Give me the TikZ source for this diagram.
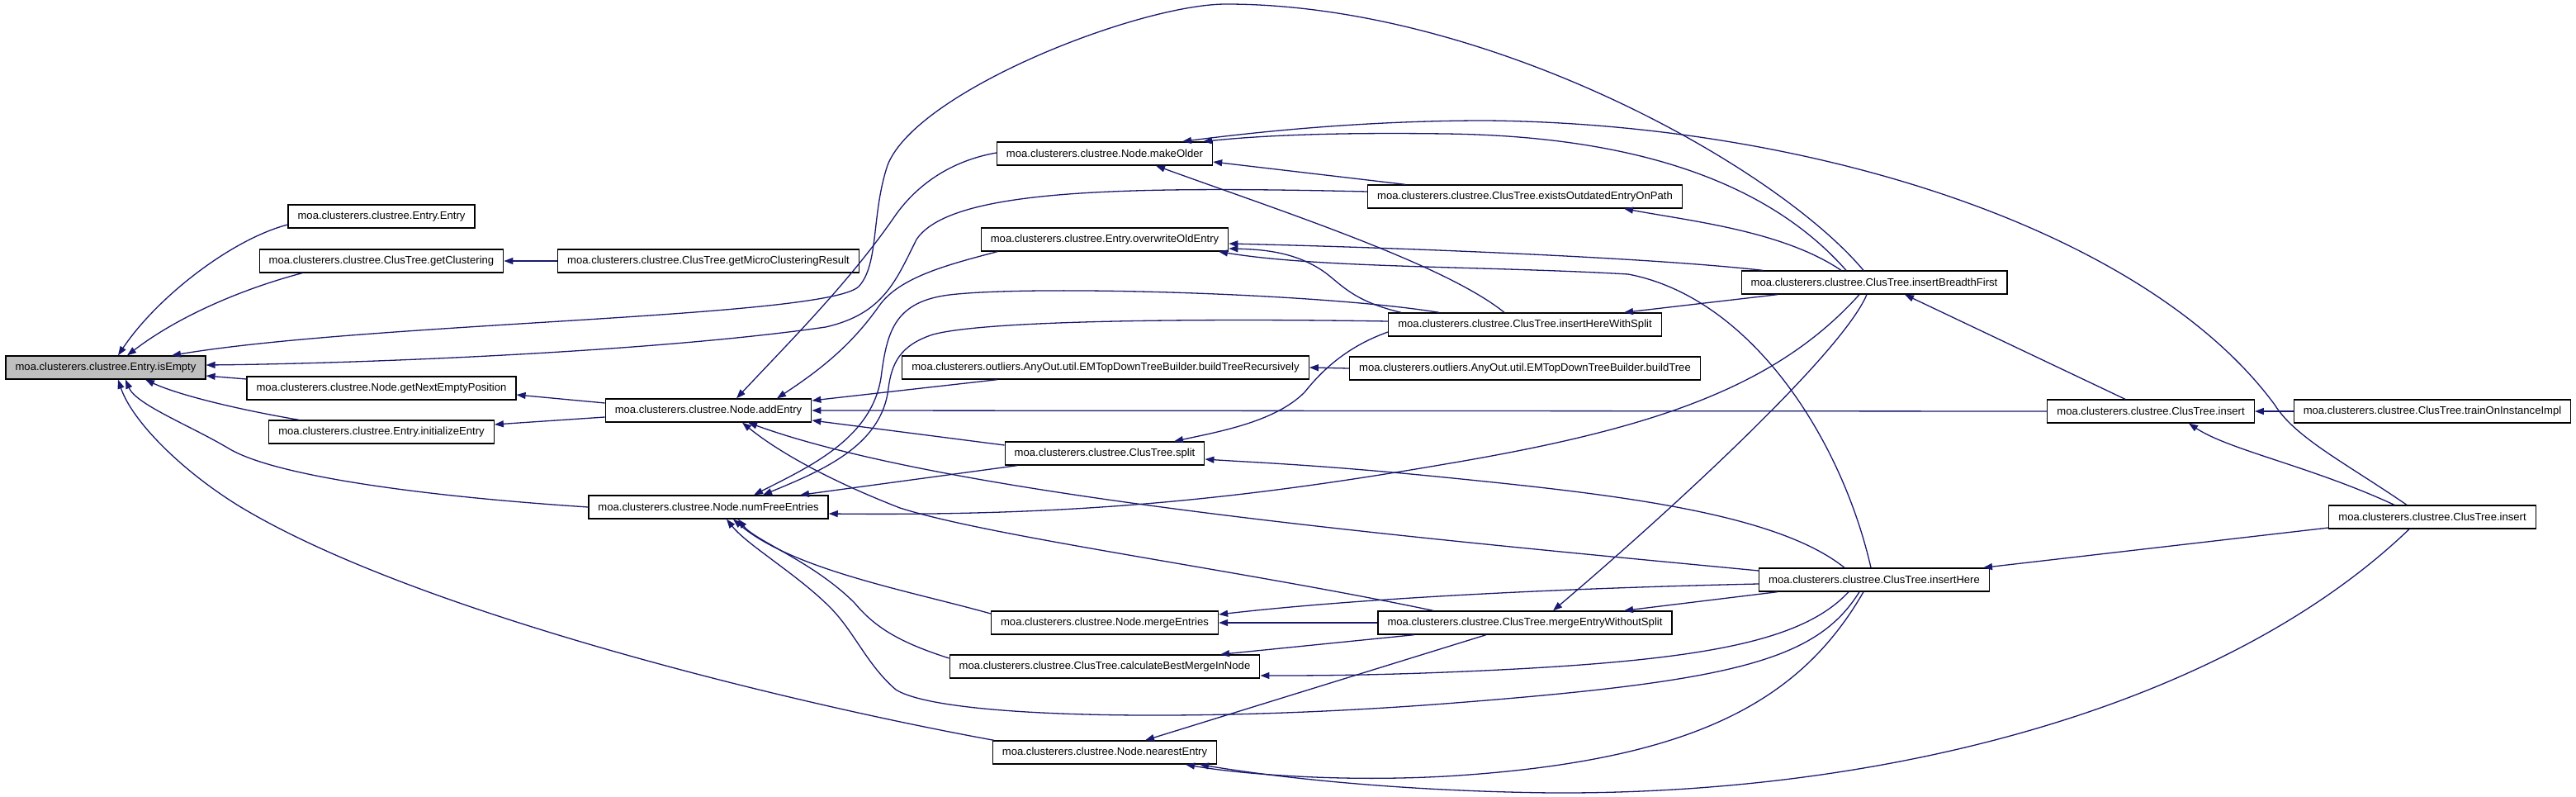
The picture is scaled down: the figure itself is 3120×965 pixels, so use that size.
\documentclass[tikz,border=0pt]{standalone}
\usepackage{fontspec}
\setmainfont{Liberation Sans}
\usepackage{xcolor}
\usetikzlibrary{arrows.meta}
\definecolor{edgeblue}{RGB}{25,25,112}

\begin{document}
\begin{tikzpicture}[x=1pt,y=-1pt,
  fn/.style={draw=black,line width=1.3pt,fill=white,minimum height=28pt,inner xsep=11.5pt,inner ysep=0pt,font=\fontsize{13.1}{15}\selectfont},
  cur/.style={fn,fill=black!25},
  call/.style={draw=edgeblue,line width=1.3pt,-{Triangle[length=11pt,width=8pt]}}]
\useasboundingbox (0,0) rectangle (3120,965);
% functions, placed by rank
\node[cur] (isEmpty) at (128,445) {moa.clusterers.clustree.Entry.isEmpty};
\foreach \nm/\x/\y/\txt in {
  EntryEntry/462/262/clustree.Entry.Entry,
  getClustering/462/316/clustree.ClusTree.getClustering,
  getNext/462/470/clustree.Node.getNextEmptyPosition,
  initEntry/462/523/clustree.Entry.initializeEntry,
  getMicro/858/316/clustree.ClusTree.getMicroClusteringResult,
  addEntry/858/497/clustree.Node.addEntry,
  numFree/858/614/clustree.Node.numFreeEntries,
  makeOlder/1338/186/clustree.Node.makeOlder,
  overwrite/1338/290/clustree.Entry.overwriteOldEntry,
  buildTreeRec/1339/445/outliers.AnyOut.util.EMTopDownTreeBuilder.buildTreeRecursively,
  split/1338/549/clustree.ClusTree.split,
  mergeEntries/1338/754/clustree.Node.mergeEntries,
  calcBest/1338/807/clustree.ClusTree.calculateBestMergeInNode,
  nearest/1338/911/clustree.Node.nearestEntry,
  existsOut/1847/238/clustree.ClusTree.existsOutdatedEntryOnPath,
  insertHWS/1847/393/clustree.ClusTree.insertHereWithSplit,
  buildTree/1847/446/outliers.AnyOut.util.EMTopDownTreeBuilder.buildTree,
  mergeEWS/1847/754/clustree.ClusTree.mergeEntryWithoutSplit,
  insertBF/2270/342/clustree.ClusTree.insertBreadthFirst,
  insertHere/2270/702/clustree.ClusTree.insertHere,
  insert1/2605/498/clustree.ClusTree.insert,
  trainOn/2946/498/clustree.ClusTree.trainOnInstanceImpl,
  insert2/2946/626/clustree.ClusTree.insert}
  \node[fn] (\nm) at (\x,\y) {moa.clusterers.\txt};
% callers of isEmpty
\draw[call] ([yshift=-10pt]EntryEntry.west) .. controls (280,290) and (190,360) .. ([xshift=15pt]isEmpty.north);
\draw[call] ([xshift=-96pt]getClustering.south) .. controls (300,348) and (220,380) .. ([xshift=26pt]isEmpty.north);
\draw[call] ([xshift=-13pt]insertBF.north) .. controls (2150,200) and (1800,5) .. (1485,5) .. controls (1380,5) and (1110,110) .. (1075,200) .. controls (1055,260) and (1065,320) .. (1040,347) .. controls (1000,385) and (450,390) .. ([xshift=80pt]isEmpty.north);
\draw[call] ([yshift=6pt]existsOut.west) .. controls (1350,225) and (1150,230) .. (1110,290) .. controls (1085,340) and (1070,380) .. (1000,396) .. controls (800,425) and (450,440) .. ([yshift=3pt]isEmpty.east);
\draw[call] ([yshift=11pt]getNext.west) -- ([yshift=-10pt]isEmpty.east);
\draw[call] ([xshift=-100pt]initEntry.north) .. controls (300,498) and (220,480) .. ([xshift=48pt]isEmpty.south);
\draw[call] (numFree.west) .. controls (500,600) and (330,575) .. (277,543) .. controls (230,515) and (165,490) .. ([xshift=24pt]isEmpty.south);
\draw[call] ([xshift=-134pt]nearest.north) .. controls (950,850) and (500,740) .. (290,613) .. controls (220,570) and (160,510) .. ([xshift=15pt]isEmpty.south);
\draw[call] (getMicro.west) -- (getClustering.east);
% callers of addEntry
\draw[call] ([yshift=9pt]addEntry.west) -- ([yshift=-8pt]getNext.east);
\draw[call] ([yshift=-8pt]addEntry.west) -- ([yshift=9pt]initEntry.east);
\draw[call] ([yshift=1pt]makeOlder.west) .. controls (1150,195) and (1110,225) .. (1085,260) .. controls (1030,340) and (960,410) .. ([xshift=34pt]addEntry.north);
\draw[call] ([xshift=-130pt]overwrite.south) .. controls (1150,320) and (1090,335) .. (1065,370) .. controls (1030,420) and (990,450) .. ([xshift=83pt]addEntry.north);
\draw[call] ([xshift=-131pt]buildTreeRec.south) -- ([yshift=12pt]addEntry.east);
\draw[call] (insert1.west) -- (addEntry.east);
\draw[call] ([yshift=10pt]split.west) -- ([yshift=-12pt]addEntry.east);
\draw[call] ([yshift=11pt]insertHere.west) .. controls (1700,650) and (1150,600) .. ([xshift=48pt]addEntry.south);
\draw[call] ([xshift=-111pt]mergeEWS.north) .. controls (1500,690) and (1200,650) .. (1090,615) .. controls (1000,580) and (940,545) .. ([xshift=41pt]addEntry.south);
% callers of numFreeEntries
\draw[call] ([xshift=-104pt]insertHWS.north) .. controls (1600,355) and (1250,345) .. (1150,357) .. controls (1085,365) and (1075,400) .. (1068,450) .. controls (1060,530) and (980,565) .. ([xshift=55pt]numFree.north);
\draw[call] ([yshift=4pt]insertHWS.west) .. controls (1500,386) and (1200,386) .. (1130,405) .. controls (1090,418) and (1080,440) .. (1076,470) .. controls (1068,540) and (995,570) .. ([xshift=66pt]numFree.north);
\draw[call] ([xshift=-106pt]split.south) -- ([xshift=111pt]numFree.north);
\draw[call] ([xshift=-18pt]insertBF.south) .. controls (2150,470) and (2000,520) .. (1750,562) .. controls (1500,605) and (1300,625) .. ([yshift=-8pt]numFree.east);
\draw[call] ([yshift=11pt]mergeEntries.west) .. controls (1100,715) and (960,690) .. ([xshift=30pt]numFree.south);
\draw[call] ([yshift=10pt]calcBest.west) .. controls (1090,778) and (1060,760) .. (1035,730) .. controls (985,680) and (915,655) .. ([xshift=36pt]numFree.south);
\draw[call] ([xshift=-18pt]insertHere.south) .. controls (2200,800) and (2100,825) .. (1750,852) .. controls (1450,875) and (1140,870) .. (1085,835) .. controls (1050,805) and (1035,765) .. (1005,735) .. controls (965,695) and (905,660) .. ([xshift=22pt]numFree.south);
% callers of makeOlder and overwriteOldEntry
\draw[call] ([xshift=-31pt]insert2.north) .. controls (2840,560) and (2780,530) .. (2755,490) .. controls (2600,280) and (2200,150) .. (1800,146) .. controls (1650,146) and (1520,160) .. ([xshift=94pt]makeOlder.north);
\draw[call] ([xshift=-34pt]insertBF.north) .. controls (2150,230) and (2000,165) .. (1750,162) .. controls (1600,160) and (1520,165) .. ([xshift=119pt]makeOlder.north);
\draw[call] ([xshift=-145pt]existsOut.north) -- ([yshift=-10pt]makeOlder.east);
\draw[call] ([xshift=-25pt]insertHWS.north) .. controls (1750,320) and (1550,255) .. ([xshift=62pt]makeOlder.south);
\draw[call] ([xshift=-135pt]insertBF.north) .. controls (2000,312) and (1700,300) .. ([yshift=-5pt]overwrite.east);
\draw[call] ([xshift=-150pt]insertHWS.north) .. controls (1640,365) and (1625,345) .. (1605,330) .. controls (1570,305) and (1530,302) .. ([yshift=-11pt]overwrite.east);
\draw[call] ([xshift=-4pt]insertHere.north) .. controls (2230,530) and (2120,360) .. (1972,332) .. controls (1800,322) and (1600,325) .. ([xshift=138pt]overwrite.south);
% the rest of rank 3
\draw[call] (buildTree.west) -- (buildTreeRec.east);
\draw[call] ([yshift=-9pt]insertHWS.west) .. controls (1630,420) and (1600,450) .. (1580,475) .. controls (1545,510) and (1480,522) .. ([xshift=84pt]split.north);
\draw[call] ([xshift=-36pt]insertHere.north) .. controls (2150,620) and (1950,598) .. (1750,578) .. controls (1600,563) and (1520,560) .. ([yshift=-7pt]split.east);
\draw[call] ([yshift=-5pt]insertHere.west) .. controls (1900,712) and (1650,724) .. ([yshift=10pt]mergeEntries.east);
\draw[call] (mergeEWS.west) -- (mergeEntries.east);
\draw[call] ([xshift=-134pt]mergeEWS.south) -- ([xshift=140pt]calcBest.north);
\draw[call] ([xshift=-31pt]insertHere.south) .. controls (2180,780) and (2050,802) .. (1750,814) .. controls (1650,818) and (1580,818) .. ([yshift=-11pt]calcBest.east);
\draw[call] ([xshift=-47pt]mergeEWS.south) -- ([xshift=49pt]nearest.north);
\draw[call] ([xshift=-13pt]insertHere.south) .. controls (2180,850) and (2050,922) .. (1750,940) .. controls (1620,947) and (1500,937) .. ([xshift=98pt]nearest.south);
\draw[call] ([xshift=-28pt]insert2.south) .. controls (2700,850) and (2300,962) .. (1880,960) .. controls (1700,958) and (1550,942) .. ([xshift=115pt]nearest.south);
% ranks 4 to 6
\draw[call] ([xshift=-40pt]insertBF.north) .. controls (2160,280) and (2050,268) .. ([xshift=120pt]existsOut.south);
\draw[call] ([xshift=-117pt]insertBF.south) -- ([xshift=120pt]insertHWS.north);
\draw[call] ([xshift=-9pt]insertBF.south) .. controls (2230,430) and (2010,630) .. ([xshift=34pt]mergeEWS.north);
\draw[call] ([xshift=-117pt]insertHere.south) -- ([xshift=120pt]mergeEWS.north);
\draw[call] ([xshift=-31pt]insert1.north) -- ([xshift=37pt]insertBF.south);
\draw[call] ([yshift=-13pt]insert2.west) -- ([xshift=132pt]insertHere.north);
\draw[call] (trainOn.west) -- (insert1.east);
\draw[call] ([xshift=-46pt]insert2.north) .. controls (2800,565) and (2700,545) .. ([xshift=46pt]insert1.south);
\end{tikzpicture}
\end{document}
